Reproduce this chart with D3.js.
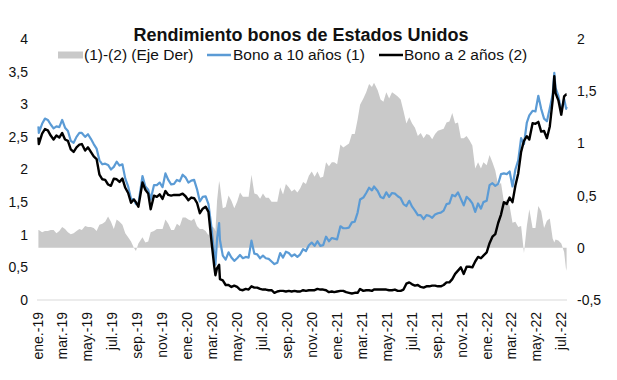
<!DOCTYPE html>
<html><head><meta charset="utf-8">
<script src="https://cdn.jsdelivr.net/npm/d3@7"></script>
<style>body{margin:0;background:#fff} svg{display:block}</style>
</head><body><svg id="c" width="617" height="380"></svg>
<script>
const dates = ["2019-01-02","2019-01-03","2019-01-11","2019-01-18","2019-01-25","2019-02-01","2019-02-08","2019-02-15","2019-02-22","2019-03-01","2019-03-08","2019-03-15","2019-03-22","2019-03-29","2019-04-05","2019-04-12","2019-04-18","2019-04-26","2019-05-03","2019-05-10","2019-05-17","2019-05-24","2019-05-31","2019-06-07","2019-06-14","2019-06-21","2019-06-28","2019-07-05","2019-07-12","2019-07-19","2019-07-26","2019-08-02","2019-08-09","2019-08-16","2019-08-23","2019-08-28","2019-09-03","2019-09-13","2019-09-20","2019-09-27","2019-10-03","2019-10-11","2019-10-18","2019-10-25","2019-11-01","2019-11-08","2019-11-15","2019-11-22","2019-11-29","2019-12-06","2019-12-13","2019-12-20","2019-12-27",
"2020-01-03","2020-01-10","2020-01-17","2020-01-24","2020-01-31","2020-02-07","2020-02-14","2020-02-21","2020-02-28","2020-03-06","2020-03-09","2020-03-13","2020-03-18","2020-03-20","2020-03-27","2020-04-03","2020-04-10","2020-04-17","2020-04-24","2020-05-01","2020-05-08","2020-05-15","2020-05-22","2020-05-29","2020-06-05","2020-06-12","2020-06-19","2020-06-26","2020-07-03","2020-07-10","2020-07-17","2020-07-24","2020-07-31","2020-08-07","2020-08-14","2020-08-21","2020-08-28","2020-09-04","2020-09-11","2020-09-18","2020-09-25","2020-10-02","2020-10-09","2020-10-16","2020-10-23","2020-10-30","2020-11-06","2020-11-13","2020-11-20","2020-11-27","2020-12-04","2020-12-11","2020-12-18","2020-12-24","2020-12-31",
"2021-01-08","2021-01-15","2021-01-22","2021-01-29","2021-02-05","2021-02-12","2021-02-19","2021-02-25","2021-03-05","2021-03-12","2021-03-19","2021-03-26","2021-03-31","2021-04-09","2021-04-16","2021-04-23","2021-04-30","2021-05-07","2021-05-14","2021-05-21","2021-05-28","2021-06-04","2021-06-11","2021-06-18","2021-06-25","2021-07-02","2021-07-09","2021-07-16","2021-07-23","2021-07-30","2021-08-06","2021-08-13","2021-08-20","2021-08-27","2021-09-03","2021-09-10","2021-09-17","2021-09-24","2021-10-01","2021-10-08","2021-10-15","2021-10-22","2021-10-29","2021-11-05","2021-11-12","2021-11-19","2021-11-26","2021-12-03","2021-12-10","2021-12-17","2021-12-23","2021-12-31",
"2022-01-07","2022-01-14","2022-01-21","2022-01-28","2022-02-04","2022-02-11","2022-02-18","2022-02-25","2022-03-04","2022-03-11","2022-03-18","2022-03-25","2022-04-01","2022-04-08","2022-04-14","2022-04-22","2022-04-29","2022-05-06","2022-05-13","2022-05-20","2022-05-27","2022-06-03","2022-06-10","2022-06-14","2022-06-17","2022-06-24","2022-07-01","2022-07-08","2022-07-13","2022-07-14"];

const tenYear = [2.66,2.56,2.70,2.78,2.76,2.69,2.63,2.66,2.65,2.76,2.64,2.59,2.44,2.41,2.50,2.56,2.56,2.50,2.54,2.47,2.39,2.32,2.14,2.08,2.09,2.07,2.00,2.04,2.12,2.06,2.08,1.86,1.74,1.55,1.54,1.47,1.47,1.90,1.74,1.69,1.54,1.76,1.76,1.80,1.73,1.94,1.84,1.77,1.78,1.84,1.82,1.92,1.88,
1.80,1.83,1.84,1.70,1.51,1.58,1.59,1.47,1.13,0.71,0.54,0.94,1.18,0.92,0.68,0.62,0.73,0.65,0.60,0.64,0.69,0.64,0.66,0.65,0.91,0.71,0.70,0.64,0.68,0.64,0.63,0.59,0.55,0.57,0.72,0.65,0.74,0.72,0.67,0.70,0.66,0.70,0.78,0.75,0.84,0.88,0.83,0.90,0.83,0.84,0.97,0.90,0.95,0.94,0.93,
1.13,1.10,1.10,1.11,1.19,1.20,1.34,1.54,1.57,1.64,1.72,1.68,1.74,1.67,1.58,1.56,1.65,1.58,1.64,1.63,1.59,1.56,1.47,1.44,1.52,1.43,1.37,1.30,1.30,1.24,1.30,1.29,1.26,1.31,1.33,1.34,1.37,1.47,1.48,1.61,1.59,1.65,1.55,1.45,1.58,1.54,1.48,1.35,1.48,1.40,1.50,1.52,
1.76,1.79,1.75,1.78,1.93,1.94,1.93,1.97,1.74,2.00,2.14,2.48,2.39,2.72,2.83,2.90,2.89,3.13,2.93,2.78,2.74,2.94,3.15,3.48,3.25,3.13,2.88,3.08,2.93,2.96];

const twoYear = [2.49,2.39,2.55,2.62,2.60,2.52,2.46,2.52,2.49,2.56,2.46,2.44,2.31,2.27,2.34,2.38,2.39,2.29,2.34,2.27,2.20,2.16,1.92,1.85,1.84,1.77,1.75,1.86,1.85,1.81,1.86,1.72,1.64,1.49,1.54,1.50,1.43,1.80,1.69,1.63,1.39,1.60,1.58,1.62,1.55,1.67,1.61,1.60,1.61,1.61,1.61,1.63,1.59,
1.53,1.57,1.56,1.49,1.33,1.40,1.43,1.35,0.92,0.52,0.38,0.49,0.54,0.32,0.30,0.23,0.23,0.20,0.22,0.20,0.16,0.15,0.17,0.16,0.21,0.19,0.19,0.17,0.16,0.16,0.15,0.15,0.11,0.13,0.14,0.14,0.13,0.14,0.13,0.14,0.13,0.13,0.15,0.14,0.15,0.15,0.15,0.17,0.16,0.16,0.15,0.12,0.13,0.12,0.13,
0.14,0.14,0.12,0.11,0.10,0.11,0.11,0.17,0.14,0.15,0.15,0.14,0.16,0.16,0.16,0.16,0.16,0.15,0.15,0.16,0.14,0.14,0.16,0.25,0.27,0.24,0.22,0.23,0.20,0.19,0.21,0.21,0.22,0.22,0.21,0.21,0.23,0.27,0.27,0.32,0.40,0.45,0.50,0.40,0.51,0.51,0.50,0.59,0.66,0.64,0.68,0.73,
0.87,0.97,1.01,1.18,1.31,1.50,1.47,1.57,1.50,1.75,1.94,2.27,2.44,2.51,2.46,2.71,2.70,2.73,2.58,2.59,2.48,2.66,3.06,3.43,3.17,3.06,2.84,3.12,3.15,3.15];

const leftTicks = [0,0.5,1,1.5,2,2.5,3,3.5,4];
const rightTicks = [-0.5,0,0.5,1,1.5,2];
const xTickDates = ["2019-01-01","2019-03-01","2019-05-01","2019-07-01","2019-09-01","2019-11-01","2020-01-01","2020-03-01","2020-05-01","2020-07-01","2020-09-01","2020-11-01","2021-01-01","2021-03-01","2021-05-01","2021-07-01","2021-09-01","2021-11-01","2022-01-01","2022-03-01","2022-05-01","2022-07-01"];
const xTickLabels = ["ene.-19","mar.-19","may.-19","jul.-19","sep.-19","nov.-19","ene.-20","mar.-20","may.-20","jul.-20","sep.-20","nov.-20","ene.-21","mar.-21","may.-21","jul.-21","sep.-21","nov.-21","ene.-22","mar.-22","may.-22","jul.-22"];
const seriesNames = ["(1)-(2) (Eje Der)","Bono a 10 años (1)","Bono a 2 años (2)"];
const titleText = "Rendimiento bonos de Estados Unidos";

const parse = d3.timeParse("%Y-%m-%d");
const data = dates.map((d,i)=>({date:parse(d), ten:tenYear[i], two:twoYear[i], spread:tenYear[i]-twoYear[i]}));

const svg = d3.select("#c");
const font = "'Liberation Sans', Arial, Helvetica, sans-serif";
const x = d3.scaleTime().domain([parse("2019-01-01"), parse("2022-07-15")]).range([38, 567]);
const yL = d3.scaleLinear().domain([0,4]).range([300,39]);
const yR = d3.scaleLinear().domain([-0.5,2]).range([300,39]);
const fmt = v => String(v).replace(".", ",");

// area
svg.append("path").datum(data)
  .attr("fill", "#c9c9c9")
  .attr("d", d3.area().x(d=>x(d.date)).y0(yR(0)).y1(d=>yR(d.spread)));

// bottom axis line
svg.append("line").attr("x1", 37).attr("x2", 567).attr("y1", yL(0)).attr("y2", yL(0))
  .attr("stroke", "#d9d9d9").attr("stroke-width", 1.2);

svg.append("path").datum(data).attr("fill","none").attr("stroke","#5b9bd5").attr("stroke-width",2.2)
  .attr("stroke-linejoin","round")
  .attr("d", d3.line().x(d=>x(d.date)).y(d=>yL(d.ten)));
svg.append("path").datum(data).attr("fill","none").attr("stroke","#000").attr("stroke-width",2.4)
  .attr("stroke-linejoin","round")
  .attr("d", d3.line().x(d=>x(d.date)).y(d=>yL(d.two)));

// left axis labels
svg.append("g").selectAll("text").data(leftTicks).join("text")
  .attr("x", 28).attr("y", d=>yL(d)).attr("dy","0.35em")
  .attr("text-anchor","end").attr("font-family",font).attr("font-size",14).attr("fill","#111")
  .text(fmt);
// right axis labels
svg.append("g").selectAll("text").data(rightTicks).join("text")
  .attr("x", 577).attr("y", d=>yR(d)).attr("dy","0.35em")
  .attr("text-anchor","start").attr("font-family",font).attr("font-size",14).attr("fill","#111")
  .text(fmt);
// x labels
svg.append("g").selectAll("text").data(xTickDates).join("text")
  .attr("transform", d=>`translate(${x(parse(d))},312) rotate(-90)`)
  .attr("dy","0.35em").attr("text-anchor","end")
  .attr("font-family",font).attr("font-size",14).attr("fill","#111")
  .text((d,i)=>xTickLabels[i]);

// title
svg.append("text").attr("x", 301).attr("y", 41).attr("text-anchor","middle")
  .attr("font-family",font).attr("font-size",18).attr("font-weight","bold").attr("fill","#111")
  .text(titleText);

// legend
const ly = 55;
const lg = svg.append("g").attr("font-family",font).attr("font-size",15.5).attr("fill","#111");
lg.append("rect").attr("x",58).attr("y",ly-3.5).attr("width",25).attr("height",7).attr("fill","#c9c9c9");
lg.append("text").attr("x",84).attr("y",ly).attr("dy","0.35em").text(seriesNames[0]);
lg.append("line").attr("x1",207).attr("x2",231).attr("y1",ly).attr("y2",ly).attr("stroke","#5b9bd5").attr("stroke-width",2.5);
lg.append("text").attr("x",233).attr("y",ly).attr("dy","0.35em").text(seriesNames[1]);
lg.append("line").attr("x1",379).attr("x2",403).attr("y1",ly).attr("y2",ly).attr("stroke","#000").attr("stroke-width",2.5);
lg.append("text").attr("x",404).attr("y",ly).attr("dy","0.35em").text(seriesNames[2]);
</script>
</body></html>
